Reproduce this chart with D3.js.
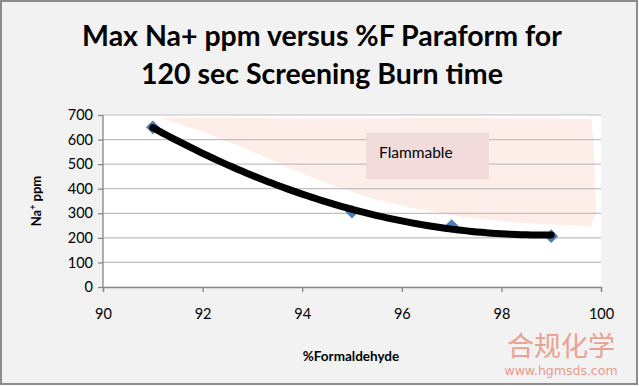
<!DOCTYPE html>
<html lang="en">
<head>
<meta charset="utf-8" />
<title>Max Na+ ppm versus %F Paraform</title>
<script src="https://cdn.jsdelivr.net/npm/d3@7"></script>
<style>
  body { margin: 0; background: #fff; }
  svg { display: block; }
</style>
</head>
<body>
<svg width="639" height="386"></svg>
<script>
// data
var formaldehyde = [91, 95, 97, 99];
var naPpm = [650, 307, 248, 207];
var xTicks = [90, 92, 94, 96, 98, 100];
var yTicks = [0, 100, 200, 300, 400, 500, 600, 700];
// outline of the shaded "Flammable" zone, in chart units (% , ppm)
var zoneX = [91.15, 92.0, 92.9, 93.8, 94.6, 95.4, 96.3, 97.2, 98.2, 99.0, 99.8, 99.9, 99.85, 99.8, 97.0, 94.0, 91.8];
var zoneY = [688, 632, 560, 478, 414, 360, 318, 286, 264, 254, 246, 300, 600, 685, 688, 686, 690];

var svg = d3.select("svg");
var W = 639, H = 386;
var plotL = 103, plotR = 601, plotT = 115, plotB = 287;

svg.append("rect")
    .attr("x", 1).attr("y", 1).attr("width", W - 3).attr("height", H - 3)
    .attr("fill", "#f2f2f2").attr("stroke", "#8c8c8c").attr("stroke-width", 2);

var x = d3.scaleLinear().domain([90, 100]).range([plotL, plotR]);
var y = d3.scaleLinear().domain([0, 700]).range([plotB, plotT]);

svg.append("rect")
    .attr("x", plotL).attr("y", plotT)
    .attr("width", plotR - plotL).attr("height", plotB - plotT)
    .attr("fill", "#fff");

// shaded zone
var zone = zoneX.map(function (d, i) { return [x(d), y(zoneY[i])]; });
svg.append("path")
    .attr("d", d3.line().curve(d3.curveLinearClosed)(zone))
    .attr("fill", "#fdeee9");

// gridlines
svg.append("g")
    .selectAll("line")
    .data(yTicks.filter(function (d) { return d > 0; }))
    .join("line")
    .attr("x1", plotL).attr("x2", plotR)
    .attr("y1", function (d) { return y(d); })
    .attr("y2", function (d) { return y(d); })
    .attr("stroke", "#c0c0c0").attr("stroke-width", 1.2);

// axes
var fontTick = "'Lato', 'Open Sans', sans-serif";
var gx = svg.append("g")
    .attr("transform", "translate(0," + plotB + ")")
    .call(d3.axisBottom(x).tickValues(xTicks).tickSize(5).tickPadding(17));
var gy = svg.append("g")
    .attr("transform", "translate(" + plotL + ",0)")
    .call(d3.axisLeft(y).tickValues(yTicks).tickSize(5).tickPadding(5));
[gx, gy].forEach(function (g) {
    g.selectAll("path, line").attr("stroke", "#868686").attr("stroke-width", 1.3);
    g.selectAll("text").attr("font-family", fontTick).attr("font-size", 14.5).attr("fill", "#000");
});
gy.select(".domain").attr("d", "M0," + plotT + "V" + plotB);

// Flammable label
svg.append("rect")
    .attr("x", 366).attr("y", 133).attr("width", 123).attr("height", 46)
    .attr("fill", "#f2dcdb");
svg.append("text")
    .attr("x", 379).attr("y", 158)
    .attr("font-family", fontTick).attr("font-size", 15.5)
    .text("Flammable");

// quadratic least-squares trendline
function quadFit(xs, ys) {
    var s = [0, 0, 0, 0, 0], t = [0, 0, 0];
    xs.forEach(function (xv, i) {
        var u = xv - 95;
        for (var k = 0; k < 5; k++) s[k] += Math.pow(u, k);
        for (var j = 0; j < 3; j++) t[j] += ys[i] * Math.pow(u, j);
    });
    var A = [[s[0], s[1], s[2], t[0]], [s[1], s[2], s[3], t[1]], [s[2], s[3], s[4], t[2]]];
    for (var c = 0; c < 3; c++) {
        for (var r = c + 1; r < 3; r++) {
            var f = A[r][c] / A[c][c];
            for (var k2 = c; k2 < 4; k2++) A[r][k2] -= f * A[c][k2];
        }
    }
    var b = [0, 0, 0];
    for (var r2 = 2; r2 >= 0; r2--) {
        var v = A[r2][3];
        for (var c2 = r2 + 1; c2 < 3; c2++) v -= A[r2][c2] * b[c2];
        b[r2] = v / A[r2][r2];
    }
    return function (xv) { var u = xv - 95; return b[0] + b[1] * u + b[2] * u * u; };
}
var fit = quadFit(formaldehyde, naPpm);
var trend = d3.range(91, 99.001, 0.1).map(function (d) { return [x(d), y(fit(d))]; });

// markers
svg.append("g")
    .selectAll("path")
    .data(formaldehyde)
    .join("path")
    .attr("transform", function (d, i) { return "translate(" + x(d) + "," + y(naPpm[i]) + ")"; })
    .attr("d", d3.symbol().type(d3.symbolDiamond2).size(120))
    .attr("fill", "#4a7ebb");

svg.append("path")
    .attr("d", d3.line()(trend))
    .attr("fill", "none").attr("stroke", "#000")
    .attr("stroke-width", 7).attr("stroke-linecap", "round");

// title
var title = svg.append("text")
    .attr("text-anchor", "middle")
    .attr("font-family", fontTick).attr("font-weight", "bold").attr("font-size", 28.5);
title.append("tspan").attr("x", 322).attr("y", 46).text("Max Na+ ppm versus %F Paraform for");
title.append("tspan").attr("x", 322).attr("y", 84).text("120 sec Screening Burn time");

// axis titles
svg.append("text")
    .attr("x", 351).attr("y", 361).attr("text-anchor", "middle")
    .attr("font-family", fontTick).attr("font-weight", "bold").attr("font-size", 13.5)
    .text("%Formaldehyde");
var yl = svg.append("text")
    .attr("transform", "translate(41,201) rotate(-90)")
    .attr("text-anchor", "middle")
    .attr("font-family", fontTick).attr("font-weight", "bold").attr("font-size", 13);
yl.append("tspan").text("Na");
yl.append("tspan").attr("font-size", 9).attr("dy", -5).text("+");
yl.append("tspan").attr("dy", 5).text(" ppm");

// watermark
svg.append("text")
    .attr("x", 561).attr("y", 356).attr("text-anchor", "middle")
    .attr("font-family", "'Noto Sans CJK SC', sans-serif").attr("font-size", 27)
    .attr("fill", "#e9998a").attr("opacity", 0.9)
    .text("合规化学");
svg.append("text")
    .attr("x", 561).attr("y", 375).attr("text-anchor", "middle")
    .attr("font-family", "'DejaVu Sans', sans-serif").attr("font-size", 12.5)
    .attr("fill", "#e9998a")
    .text("www.hgmsds.com");
</script>
</body>
</html>
